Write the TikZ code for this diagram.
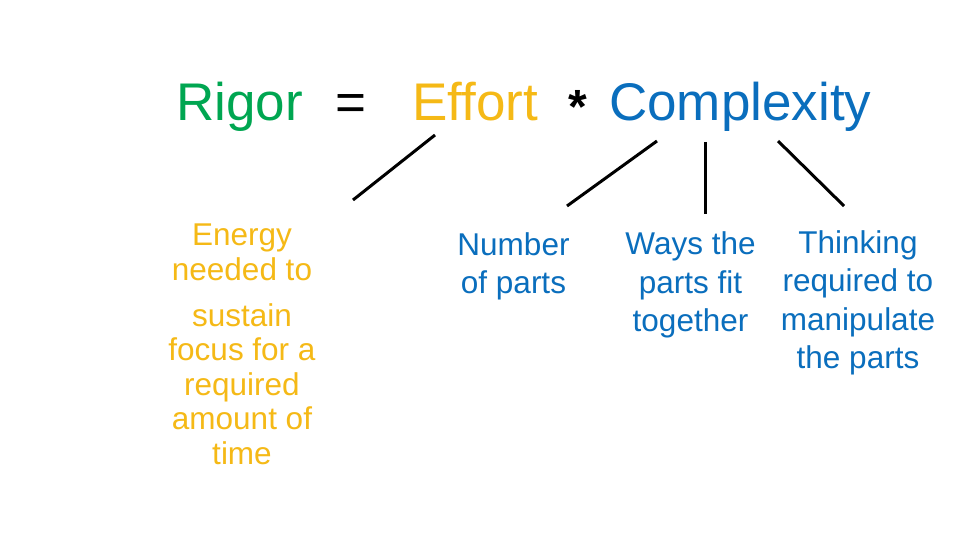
\documentclass[tikz,border=0pt]{standalone}
\usepackage{fontspec}
\setmainfont{Liberation Sans}
\definecolor{rgreen}{HTML}{00A651}
\definecolor{ryellow}{HTML}{F5B916}
\definecolor{rblue}{HTML}{0A6EBD}
\tikzset{
  title/.style={inner sep=0pt, anchor=base west, font=\fontsize{53}{60}\selectfont},
  body/.style={inner sep=0pt, anchor=base, align=center, font=\fontsize{31.5}{38.5}\selectfont, text=rblue},
  link/.style={line width=3pt, black}
}
\begin{document}
\begin{tikzpicture}[x=1pt,y=-1pt]
\useasboundingbox (0,0) rectangle (960,540);
\fill[white] (0,0) rectangle (960,540);
% title
\node[title, text=rgreen] (rigor) at (176,121) {Rigor};
\node[inner sep=0pt, anchor=base, font=\fontsize{53}{60}\selectfont] (eq) at (351,121) {=};
\node[inner sep=0pt, anchor=base, font=\bfseries\fontsize{48}{54}\selectfont] (times) at (577.5,124) {*};
\node[title, text=ryellow] (effort) at (412,121) {Effort};
\node[title, text=rblue] (complexity) at (609,121) {Complexity};
% descriptions
\node[body, text=ryellow, font=\fontsize{31.5}{34.5}\selectfont] (energy) at (242,464)
  {Energy\\needed to\\[11.5pt]sustain\\focus for a\\required\\amount of\\time};
\node[body] (number) at (513.5,293.5) {Number\\of parts};
\node[body] (ways) at (690.5,331.5) {Ways the\\parts fit\\together};
\node[body] (thinking) at (858,368.5) {Thinking\\required to\\manipulate\\the parts};
% connectors
\coordinate (e1) at (435,135); \coordinate (e2) at (353,200);
\coordinate (c1) at (657,141); \coordinate (c2) at (567,206);
\coordinate (c3) at (705,142); \coordinate (c4) at (705,214);
\coordinate (c5) at (778,141); \coordinate (c6) at (844,206);
\draw[link] (e1) -- (e2);
\draw[link] (c1) -- (c2);
\draw[link] (c3) -- (c4);
\draw[link] (c5) -- (c6);
\end{tikzpicture}
\end{document}
